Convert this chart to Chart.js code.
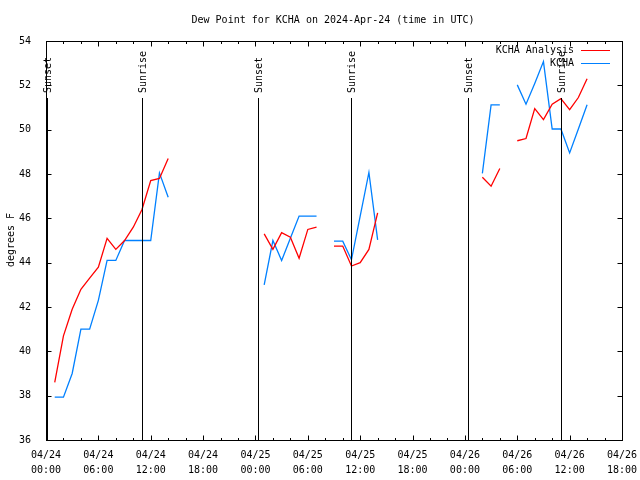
<!DOCTYPE html>
<html>
<head>
<meta charset="utf-8">
<script src="https://cdn.jsdelivr.net/npm/chart.js@4/dist/chart.umd.min.js"></script>
<style>
  html, body { margin: 0; padding: 0; background: #fff; }
  #wrap { width: 640px; height: 480px; }
</style>
</head>
<body>
<div id="wrap"><canvas id="dewpoint"></canvas></div>
<script>
// hours since 04/24 00:00 UTC
const hours = [1,2,3,4,5,6,7,8,9,10,11,12,13,14,15,16,17,18,19,20,21,22,23,24,25,26,27,28,29,30,31,
  32,33,34,35,36,37,38,39,40,41,42,43,44,45,46,47,48,49,50,51,52,53,54,55,56,57,58,59,60,61,62];

const analysis = [38.6,40.7,41.9,42.8,43.3,43.8,45.1,44.6,45.0,45.6,46.4,47.7,47.8,48.7,
  null,null,null,null,null,null,null,null,null,null,
  45.3,44.6,45.35,45.15,44.2,45.5,45.6,
  null,
  44.75,44.75,43.85,44.0,44.6,46.25,
  null,null,null,null,null,null,null,null,null,null,null,
  47.85,47.45,48.25,
  null,
  49.5,49.6,50.95,50.45,51.15,51.4,50.9,51.45,52.3];

const observed = [37.93,37.93,39.0,41.0,41.0,42.3,44.1,44.1,45.0,45.0,45.0,45.0,48.05,46.95,
  null,null,null,null,null,null,null,null,null,null,
  43.0,45.0,44.1,45.1,46.1,46.1,46.1,
  null,
  44.97,44.97,44.13,46.1,48.07,45.03,
  null,null,null,null,null,null,null,null,null,null,null,
  48.03,51.12,51.12,
  null,
  52.02,51.15,52.08,53.07,50.03,50.03,48.95,50.03,51.12];

const sunLabels = ['Sunset','Sunrise','Sunset','Sunrise','Sunset','Sunrise'];
const sunTimes = [0.1, 11.05, 24.25, 35.0, 48.36, 59.03];

const FONT = '"DejaVu Sans Mono", monospace';

function fmtTick(v){
  let day = 24 + Math.floor(v / 24);
  let hr = v % 24;
  return ['04/' + day, (hr < 10 ? '0' : '') + hr + ':00'];
}

const gnuplotFrame = {
  id: 'gnuplotFrame',
  afterDatasetsDraw(chart){
    const ctx = chart.ctx;
    const a = chart.chartArea;
    const xs = chart.scales.x, ys = chart.scales.y;
    ctx.save();
    ctx.strokeStyle = '#000';
    ctx.lineWidth = 1;
    // sunrise / sunset lines
    for (let i = 0; i < sunTimes.length; i++){
      let x = Math.round(xs.getPixelForValue(sunTimes[i])) + 0.5;
      ctx.beginPath();
      ctx.moveTo(x, 98);
      ctx.lineTo(x, a.bottom);
      ctx.stroke();
      ctx.save();
      ctx.translate(x + 1, 93);
      ctx.rotate(-Math.PI / 2);
      ctx.fillStyle = '#000';
      ctx.font = '10px ' + FONT;
      ctx.textAlign = 'left';
      ctx.textBaseline = 'middle';
      ctx.fillText(sunLabels[i], 0, 0);
      ctx.restore();
    }
    // frame
    let l = Math.round(a.left) + 0.5, r = Math.round(a.right) + 0.5;
    let t = Math.round(a.top) + 0.5, b = Math.round(a.bottom) + 0.5;
    ctx.strokeRect(l, t, r - l, b - t);
    // inward ticks
    ctx.beginPath();
    for (let h = 0; h <= 66; h += 2){
      let x = Math.round(xs.getPixelForValue(h)) + 0.5;
      let len = (h % 6 === 0) ? 5 : 2.5;
      ctx.moveTo(x, b); ctx.lineTo(x, b - len);
      ctx.moveTo(x, t); ctx.lineTo(x, t + len);
    }
    for (let v = 36; v <= 54; v += 2){
      let y = Math.round(ys.getPixelForValue(v)) + 0.5;
      ctx.moveTo(l, y); ctx.lineTo(l + 5, y);
      ctx.moveTo(r, y); ctx.lineTo(r - 5, y);
    }
    ctx.stroke();
    ctx.restore();
  },
  afterDraw(chart){
    const ctx = chart.ctx;
    ctx.save();
    ctx.fillStyle = '#000';
    ctx.font = '10px ' + FONT;
    ctx.textBaseline = 'middle';
    ctx.textAlign = 'center';
    ctx.fillText('Dew Point for KCHA on 2024-Apr-24 (time in UTC)', 333, 20);
    // y title
    ctx.save();
    ctx.translate(11, 240);
    ctx.rotate(-Math.PI / 2);
    ctx.fillText('degrees F', 0, 0);
    ctx.restore();
    // legend
    const ds = chart.data.datasets;
    for (let i = 0; i < ds.length; i++){
      let y = 50 + i * 13;
      ctx.textAlign = 'right';
      ctx.fillStyle = '#000';
      ctx.fillText(ds[i].label, 574, y);
      ctx.strokeStyle = ds[i].borderColor;
      ctx.lineWidth = 1;
      ctx.beginPath();
      ctx.moveTo(581, Math.round(y) + 0.5);
      ctx.lineTo(610, Math.round(y) + 0.5);
      ctx.stroke();
    }
    ctx.restore();
  }
};

let ctx = document.getElementById('dewpoint').getContext('2d');
let dewChart = new Chart(ctx, {
  type: 'line',
  data: {
    datasets: [
      {
        label: 'KCHA Analysis',
        data: hours.map((h, i) => ({x: h, y: analysis[i]})),
        borderColor: '#ff0000',
        borderWidth: 1.3,
        pointRadius: 0,
        tension: 0,
        fill: false,
        spanGaps: false
      },
      {
        label: 'KCHA',
        data: hours.map((h, i) => ({x: h, y: observed[i]})),
        borderColor: '#0080ff',
        borderWidth: 1.3,
        pointRadius: 0,
        tension: 0,
        fill: false,
        spanGaps: false
      }
    ]
  },
  options: {
    responsive: true,
    maintainAspectRatio: false,
    animation: false,
    layout: { padding: { top: 41, right: 18, left: 0, bottom: 0 } },
    plugins: {
      legend: { display: false },
      title: { display: false },
      tooltip: { enabled: false }
    },
    scales: {
      x: {
        type: 'linear',
        min: 0,
        max: 66,
        grid: { display: false },
        border: { display: false },
        afterFit: (s) => { s.height = 40; },
        ticks: {
          stepSize: 6,
          maxRotation: 0,
          autoSkip: false,
          padding: 0,
          color: '#000',
          font: { family: FONT, size: 10, lineHeight: 1.5 },
          callback: (v) => fmtTick(v)
        }
      },
      y: {
        min: 36,
        max: 54,
        grid: { display: false },
        border: { display: false },
        afterFit: (s) => { s.width = 46; },
        ticks: {
          stepSize: 2,
          padding: 7,
          color: '#000',
          font: { family: FONT, size: 10 }
        }
      }
    }
  },
  plugins: [gnuplotFrame]
});
</script>
</body>
</html>
